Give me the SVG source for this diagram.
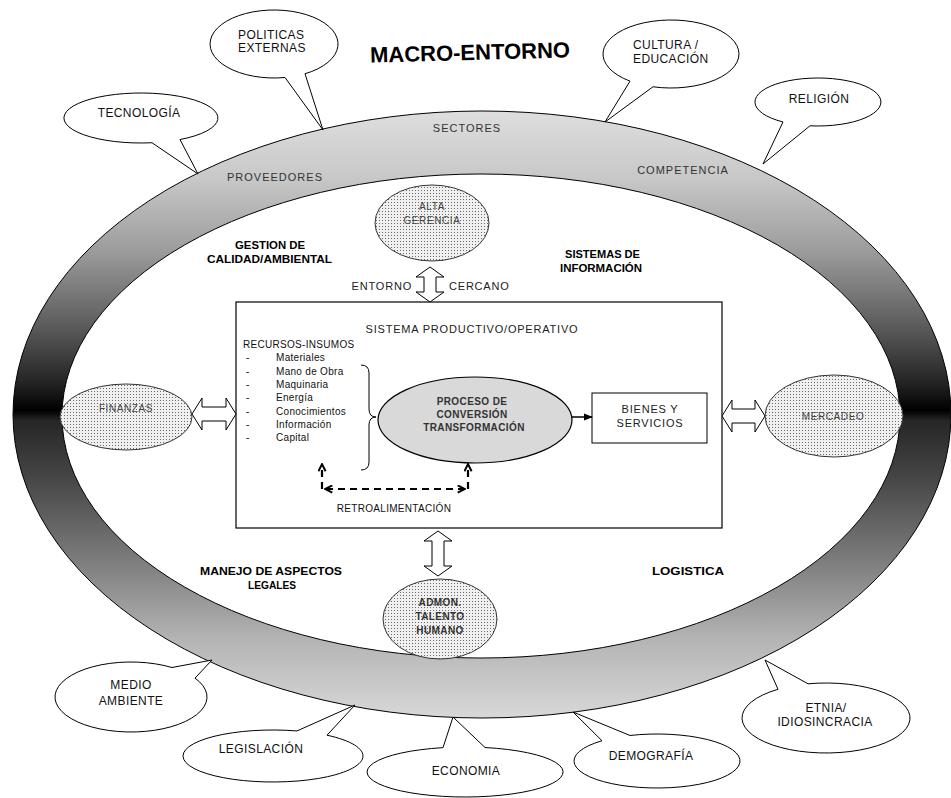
<svg xmlns="http://www.w3.org/2000/svg" width="951" height="798" viewBox="0 0 951 798">
<defs>
<linearGradient id="ringGrad" gradientUnits="userSpaceOnUse" x1="0" y1="111" x2="0" y2="718">
<stop offset="0" stop-color="#dedede"/>
<stop offset="0.11" stop-color="#c8c8c8"/>
<stop offset="0.23" stop-color="#9c9c9c"/>
<stop offset="0.35" stop-color="#5e5e5e"/>
<stop offset="0.45" stop-color="#222222"/>
<stop offset="0.493" stop-color="#000000"/>
<stop offset="0.51" stop-color="#262626"/>
<stop offset="0.6" stop-color="#444444"/>
<stop offset="0.74" stop-color="#7c7c7c"/>
<stop offset="0.87" stop-color="#b4b4b4"/>
<stop offset="1" stop-color="#d8d8d8"/>
</linearGradient>
<pattern id="dots" width="3" height="3" patternUnits="userSpaceOnUse">
<rect width="3" height="3" fill="#f0f0f0"/>
<rect x="1" y="1" width="1" height="1" fill="#6a6a6a"/>
</pattern>
<marker id="arrowSolid" viewBox="0 0 10 10" refX="9" refY="5" markerWidth="9" markerHeight="9" markerUnits="userSpaceOnUse" orient="auto-start-reverse">
<path d="M0,1 L10,5 L0,9 Z" fill="#000"/>
</marker>
<marker id="arrowFb" viewBox="0 0 10 10" refX="8" refY="5" markerWidth="9" markerHeight="9" markerUnits="userSpaceOnUse" orient="auto-start-reverse">
<path d="M1,1 L9,5 L1,9" fill="none" stroke="#000" stroke-width="2.2"/>
</marker>
</defs>
<style>
text { font-family: "Liberation Sans", Arial, sans-serif; }
.call { fill: #fff; stroke: #000; stroke-width: 1; }
.ct { font-size: 12px; letter-spacing: 0.4px; fill: #111; text-anchor: middle; }
.cts { font-size: 12px; letter-spacing: 0.4px; fill: #111; }
.rt { font-size: 11px; letter-spacing: 1px; fill: #333; text-anchor: middle; }
.bl { font-size: 11.5px; font-weight: bold; fill: #000; }
.dot { fill: url(#dots); stroke: #333; stroke-width: 1; }
.dt { font-size: 10px; letter-spacing: 0.6px; fill: #444; text-anchor: middle; }
.dtb { font-size: 10px; font-weight: bold; letter-spacing: 0.4px; fill: #333; text-anchor: middle; }
.hollow { fill: #fff; stroke: #000; stroke-width: 1; }
.item { font-size: 10px; letter-spacing: 0.3px; fill: #111; }
.mid { font-size: 11px; letter-spacing: 0.8px; fill: #222; }
.fb { fill: none; stroke: #000; stroke-width: 2.2; stroke-dasharray: 7 5; }
</style>

<g id="ring">
<path d="M13,414.5 A469,303.5 0 1 0 951,414.5 A469,303.5 0 1 0 13,414.5 Z M62,416 A419,242 0 1 0 900,416 A419,242 0 1 0 62,416 Z" fill="url(#ringGrad)" fill-rule="evenodd" stroke="#000" stroke-width="1"/>
<text class="rt" x="467" y="132">SECTORES</text>
<text class="rt" x="275" y="181">PROVEEDORES</text>
<text class="rt" x="683" y="174">COMPETENCIA</text>
</g>

<g id="title">
<text x="470" y="60" text-anchor="middle" font-size="22" font-weight="bold" fill="#000" transform="rotate(-1.5 470 52)">MACRO-ENTORNO</text>
</g>

<g id="callout-tecnologia">
<path class="call" d="M152,142.74 A77,25 0 1 1 180,139.54 L198,174 Z"/>
<text class="ct" x="139" y="117">TECNOLOGÍA</text>
</g>
<g id="callout-politicas">
<path class="call" d="M285,77.49 A64,34 0 1 1 305,73.75 L323,130 Z"/>
<text class="cts" x="238" y="39">POLITICAS</text>
<text class="cts" x="238" y="52">EXTERNAS</text>
</g>
<g id="callout-cultura">
<path class="call" d="M630,81.13 A68,34 0 1 1 653,86.79 L605,122 Z"/>
<text class="cts" x="633" y="49">CULTURA /</text>
<text class="cts" x="633" y="63">EDUCACIÓN</text>
</g>
<g id="callout-religion">
<path class="call" d="M783,121.96 A63,24 0 1 1 810,125.8 L763,164 Z"/>
<text class="ct" x="819" y="103">RELIGIÓN</text>
</g>
<g id="callout-medio-ambiente">
<path class="call" d="M172,667.53 A76,35 0 1 0 195,678.12 L212,660 Z"/>
<text class="ct" x="131" y="689">MEDIO</text>
<text class="ct" x="131" y="705">AMBIENTE</text>
</g>
<g id="callout-legislacion">
<path class="call" d="M297,730.94 A90,26 0 1 0 327,735.2 L355,705 Z"/>
<text class="ct" x="261" y="753">LEGISLACIÓN</text>
</g>
<g id="callout-economia">
<path class="call" d="M443,747.64 A98,25 0 1 0 485,747.52 L453,717 Z"/>
<text class="ct" x="466" y="775">ECONOMIA</text>
</g>
<g id="callout-demografia">
<path class="call" d="M602,740.78 A83,27 0 1 0 630,735.47 L573,712 Z"/>
<text class="ct" x="651" y="760">DEMOGRAFÍA</text>
</g>
<g id="callout-etnia">
<path class="call" d="M778,689.28 A84,35 0 1 0 808,683.81 L765,660 Z"/>
<text class="ct" x="826" y="712">ETNIA/</text>
<text class="ct" x="825" y="726">IDIOSINCRACIA</text>
</g>

<g id="label-gestion">
<text class="bl" x="235" y="249" textLength="70" lengthAdjust="spacingAndGlyphs">GESTION DE</text>
<text class="bl" x="207" y="263" textLength="125" lengthAdjust="spacingAndGlyphs">CALIDAD/AMBIENTAL</text>
</g>
<g id="label-sistemas">
<text class="bl" x="565" y="258" textLength="75" lengthAdjust="spacingAndGlyphs">SISTEMAS DE</text>
<text class="bl" x="560" y="272" textLength="82" lengthAdjust="spacingAndGlyphs">INFORMACIÓN</text>
</g>
<g id="label-manejo">
<text class="bl" x="200" y="575" textLength="142" lengthAdjust="spacingAndGlyphs">MANEJO DE ASPECTOS</text>
<text class="bl" x="248" y="589" textLength="48" lengthAdjust="spacingAndGlyphs">LEGALES</text>
</g>
<g id="label-logistica">
<text class="bl" x="652" y="575" textLength="72" lengthAdjust="spacingAndGlyphs">LOGISTICA</text>
</g>

<g id="node-alta-gerencia">
<ellipse class="dot" cx="432" cy="223" rx="57" ry="38"/>
<text class="dt" x="432" y="210">ALTA</text>
<text class="dt" x="432" y="224">GERENCIA</text>
</g>

<g id="label-entorno">
<text class="mid" x="412" y="290" text-anchor="end">ENTORNO</text>
<text class="mid" x="449" y="290">CERCANO</text>
</g>

<g id="node-sistema">
<rect x="236" y="302" width="486" height="226" fill="#fff" stroke="#000" stroke-width="1.2"/>
<text class="mid" x="472" y="333" text-anchor="middle" letter-spacing="0.9">SISTEMA PRODUCTIVO/OPERATIVO</text>
<text class="item" x="243" y="348" letter-spacing="0.6">RECURSOS-INSUMOS</text>
<text class="item" x="246" y="361">-</text><text class="item" x="276" y="361">Materiales</text>
<text class="item" x="246" y="374.5">-</text><text class="item" x="276" y="374.5">Mano de Obra</text>
<text class="item" x="246" y="388">-</text><text class="item" x="276" y="388">Maquinaria</text>
<text class="item" x="246" y="401">-</text><text class="item" x="276" y="401">Energía</text>
<text class="item" x="246" y="415">-</text><text class="item" x="276" y="415">Conocimientos</text>
<text class="item" x="246" y="428">-</text><text class="item" x="276" y="428">Información</text>
<text class="item" x="246" y="441">-</text><text class="item" x="276" y="441">Capital</text>
<path d="M361,365 Q369,365 369,373 L369,409 Q369,417 376,417 Q369,417 369,425 L369,462 Q369,470 361,470" fill="none" stroke="#000" stroke-width="1"/>
<text class="item" x="394" y="512" text-anchor="middle" letter-spacing="0.7">RETROALIMENTACIÓN</text>
</g>

<g id="node-proceso">
<ellipse cx="475" cy="420" rx="97" ry="43" fill="#d9d9d9" stroke="#000" stroke-width="1.2"/>
<text class="dtb" x="472" y="405">PROCESO DE</text>
<text class="dtb" x="472" y="418">CONVERSIÓN</text>
<text class="dtb" x="474" y="431">TRANSFORMACIÓN</text>
</g>

<g id="node-bienes">
<rect x="592" y="393" width="115" height="50" fill="#fff" stroke="#000" stroke-width="1"/>
<text class="mid" x="650" y="413" text-anchor="middle">BIENES Y</text>
<text class="mid" x="650" y="427" text-anchor="middle">SERVICIOS</text>
</g>

<g id="node-finanzas">
<ellipse class="dot" cx="126" cy="417" rx="66" ry="33"/>
<text class="dt" x="126" y="412" letter-spacing="1">FINANZAS</text>
</g>

<g id="node-mercadeo">
<ellipse class="dot" cx="834" cy="416" rx="69" ry="41"/>
<text class="dt" x="833" y="420" letter-spacing="1">MERCADEO</text>
</g>

<g id="node-admon">
<ellipse class="dot" cx="440" cy="619" rx="57" ry="40"/>
<text class="dtb" x="440" y="606">ADMON.</text>
<text class="dtb" x="440" y="620">TALENTO</text>
<text class="dtb" x="440" y="634">HUMANO</text>
</g>

<g id="connectors">
<polygon class="hollow" points="430,267 444,277 436,277 436,292 444,292 430,302 416,292 424,292 424,277 416,277"/>
<polygon class="hollow" points="438,531 452,541 444,541 444,566 452,566 438,576 424,566 432,566 432,541 424,541"/>
<polygon class="hollow" points="192,414 202,398 202,407 226,407 226,398 236,414 226,430 226,421 202,421 202,430"/>
<polygon class="hollow" points="722,416 732,400 732,409 755,409 755,400 765,416 755,432 755,423 732,423 732,432"/>
<line x1="572" y1="417" x2="592" y2="417" stroke="#000" stroke-width="1.5" marker-end="url(#arrowSolid)"/>
<path class="fb" d="M326,489 L464,489" marker-start="url(#arrowFb)" marker-end="url(#arrowFb)"/>
<path class="fb" d="M322,489 L322,465" marker-end="url(#arrowFb)"/>
<path class="fb" d="M468,489 L468,465" marker-end="url(#arrowFb)"/>
</g>
</svg>
